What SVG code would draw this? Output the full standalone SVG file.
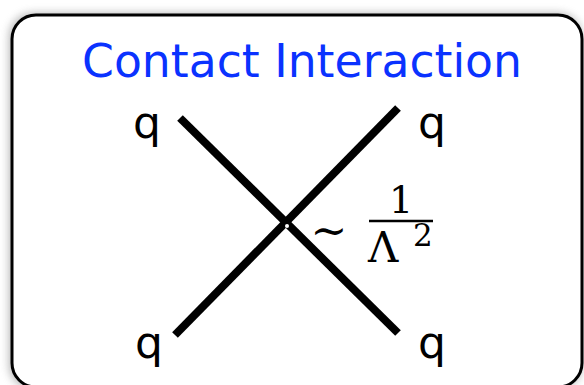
<svg xmlns="http://www.w3.org/2000/svg" width="584" height="385" viewBox="0 0 584 385">
<defs>
<filter id="sh" x="-10%" y="-10%" width="120%" height="120%">
<feGaussianBlur stdDeviation="4"/>
</filter>
<style>
.q{font-family:"DejaVu Sans","Liberation Sans",sans-serif;font-size:44px;fill:#000}
.ln{stroke:#000;stroke-width:8;fill:none}
.tex{font-family:"DejaVu Serif","Liberation Serif",serif;fill:#000}
</style>
</defs>
<rect width="584" height="385" fill="#fff"/>
<rect x="9" y="13" width="573" height="376" rx="24" fill="#888" filter="url(#sh)" opacity="0.6"/>
<g id="frame">
<rect x="12" y="15" width="570" height="372" rx="24" fill="#fff" stroke="#000" stroke-width="3"/>
</g>
<g id="title">
<text x="302" y="77" text-anchor="middle" font-family="DejaVu Sans, Open Sans, sans-serif" font-size="47" fill="#0a32ff" textLength="440" lengthAdjust="spacingAndGlyphs">Contact Interaction</text>
</g>
<g id="connectors">
<line class="ln" x1="180" y1="118" x2="398" y2="333"/>
<line class="ln" x1="398" y1="108" x2="175" y2="335"/>
<circle cx="287" cy="226" r="2" fill="#fff"/>
</g>
<g id="q-tl"><text class="q" x="133" y="138">q</text></g>
<g id="q-tr"><text class="q" x="418" y="138">q</text></g>
<g id="q-bl"><text class="q" x="135" y="358">q</text></g>
<g id="q-br"><text class="q" x="418" y="358">q</text></g>
<g id="coupling">
<text class="tex" x="329" y="246" font-size="44" text-anchor="middle">~</text>
<text class="tex" x="401" y="213" font-size="38" text-anchor="middle">1</text>
<line x1="369" y1="221" x2="433" y2="221" stroke="#000" stroke-width="2.5"/>
<text class="tex" x="368" y="262" font-size="42">Λ</text>
<text class="tex" x="413" y="246" font-size="31">2</text>
</g>
</svg>
